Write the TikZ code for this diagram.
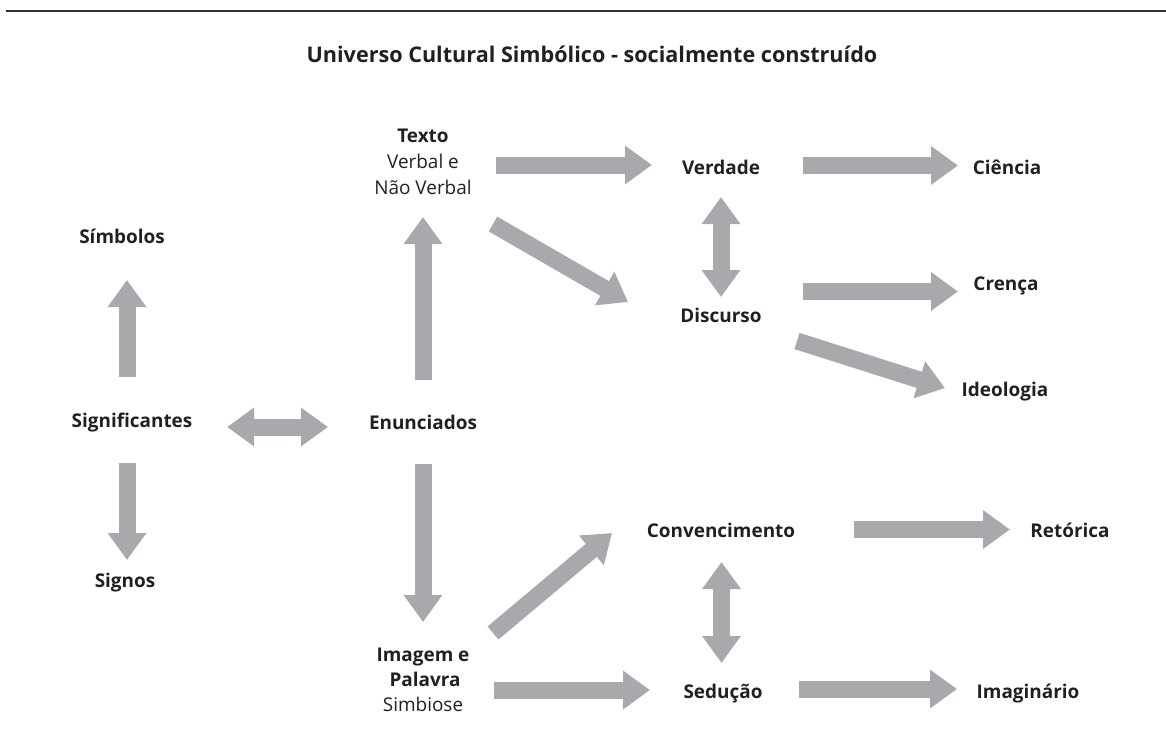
\documentclass[tikz,border=0pt]{standalone}
\usepackage{fontspec}
\setmainfont{Open Sans}
\usetikzlibrary{arrows.meta}
\definecolor{arrowgray}{RGB}{167,169,172}
\definecolor{ink}{RGB}{35,31,32}
\definecolor{rulegray}{RGB}{50,50,50}
\begin{document}
\begin{tikzpicture}[x=0.75pt,y=-0.75pt,
  lbl/.style={font=\fontsize{14.2}{17}\selectfont\bfseries, text=ink, inner sep=0pt, anchor=base},
  reg/.style={font=\fontsize{14.2}{17}\selectfont, text=ink, inner sep=0pt, anchor=base},
  ttl/.style={font=\fontsize{16.2}{19}\selectfont\bfseries, text=ink, inner sep=0pt, anchor=base},
  bigarrow/.style={draw=arrowgray, line width=12.75pt, -{Triangle[width=27.75pt,length=20.25pt]}},
  dblarrow/.style={draw=arrowgray, line width=12.75pt, {Triangle[width=27.75pt,length=20.25pt]}-{Triangle[width=27.75pt,length=20.25pt]}}
]
\useasboundingbox (0,0) rectangle (1166,750);
\coordinate (ruleL) at (6,11);
\coordinate (ruleR) at (1166,11);
\draw[rulegray, line width=1.1pt] (ruleL) -- (ruleR);

\node[ttl] (title) at (592,62) {Universo Cultural Simbólico - socialmente construído};

% left column
\node[lbl] (simbolos) at (122,243) {Símbolos};
\node[lbl] (signif) at (132,427) {Significantes};
\node[lbl] (signos) at (125,587) {Signos};

% middle column
\node[lbl] (texto) at (423,142) {Texto};
\node[reg] (texto2) at (423,168) {Verbal e};
\node[reg] (texto3) at (423,194) {Não Verbal};
\node[lbl] (enunc) at (423,429) {Enunciados};
\node[lbl] (imagem) at (423,661) {Imagem e};
\node[lbl] (imagem2) at (425,686) {Palavra};
\node[reg] (imagem3) at (423,711) {Simbiose};

% centre column
\node[lbl] (verdade) at (721,174) {Verdade};
\node[lbl] (discurso) at (721,322) {Discurso};
\node[lbl] (conv) at (721,537) {Convencimento};
\node[lbl] (seducao) at (723,698) {Sedução};

% right column
\node[lbl] (ciencia) at (1007,174) {Ciência};
\node[lbl] (crenca) at (1006,290) {Crença};
\node[lbl] (ideologia) at (1005,396) {Ideologia};
\node[lbl] (retorica) at (1070,537) {Retórica};
\node[lbl] (imaginario) at (1028,698) {Imaginário};

% arrow end points
\coordinate (a1s) at (496,165);   \coordinate (a1e) at (652,165);
\coordinate (a2s) at (803,165.5); \coordinate (a2e) at (958,165.5);
\coordinate (a3s) at (721,197);   \coordinate (a3e) at (721,297);
\coordinate (a4s) at (493,224);   \coordinate (a4e) at (628,302);
\coordinate (a5s) at (803,291.5); \coordinate (a5e) at (958,291.5);
\coordinate (a6s) at (797,341);   \coordinate (a6e) at (945,388);
\coordinate (a7s) at (127,377);   \coordinate (a7e) at (127,280);
\coordinate (a8s) at (227,427);   \coordinate (a8e) at (328,427);
\coordinate (a9s) at (127,463);   \coordinate (a9e) at (127,560);
\coordinate (a10s) at (423,380);  \coordinate (a10e) at (423,217);
\coordinate (a11s) at (423,464);  \coordinate (a11e) at (423,622);
\coordinate (a12s) at (493,633);  \coordinate (a12e) at (612,533);
\coordinate (a13s) at (854,529.5);\coordinate (a13e) at (1010,529.5);
\coordinate (a14s) at (721.5,562);\coordinate (a14e) at (721.5,663);
\coordinate (a15s) at (494,690);  \coordinate (a15e) at (650,690);
\coordinate (a16s) at (799,689);  \coordinate (a16e) at (957,689);

\draw[bigarrow] (a1s) -- (a1e);
\draw[bigarrow] (a2s) -- (a2e);
\draw[dblarrow] (a3s) -- (a3e);
\draw[bigarrow] (a4s) -- (a4e);
\draw[bigarrow] (a5s) -- (a5e);
\draw[bigarrow] (a6s) -- (a6e);
\draw[bigarrow] (a7s) -- (a7e);
\draw[dblarrow] (a8s) -- (a8e);
\draw[bigarrow] (a9s) -- (a9e);
\draw[bigarrow] (a10s) -- (a10e);
\draw[bigarrow] (a11s) -- (a11e);
\draw[bigarrow] (a12s) -- (a12e);
\draw[bigarrow] (a13s) -- (a13e);
\draw[dblarrow] (a14s) -- (a14e);
\draw[bigarrow] (a15s) -- (a15e);
\draw[bigarrow] (a16s) -- (a16e);
\end{tikzpicture}
\end{document}
